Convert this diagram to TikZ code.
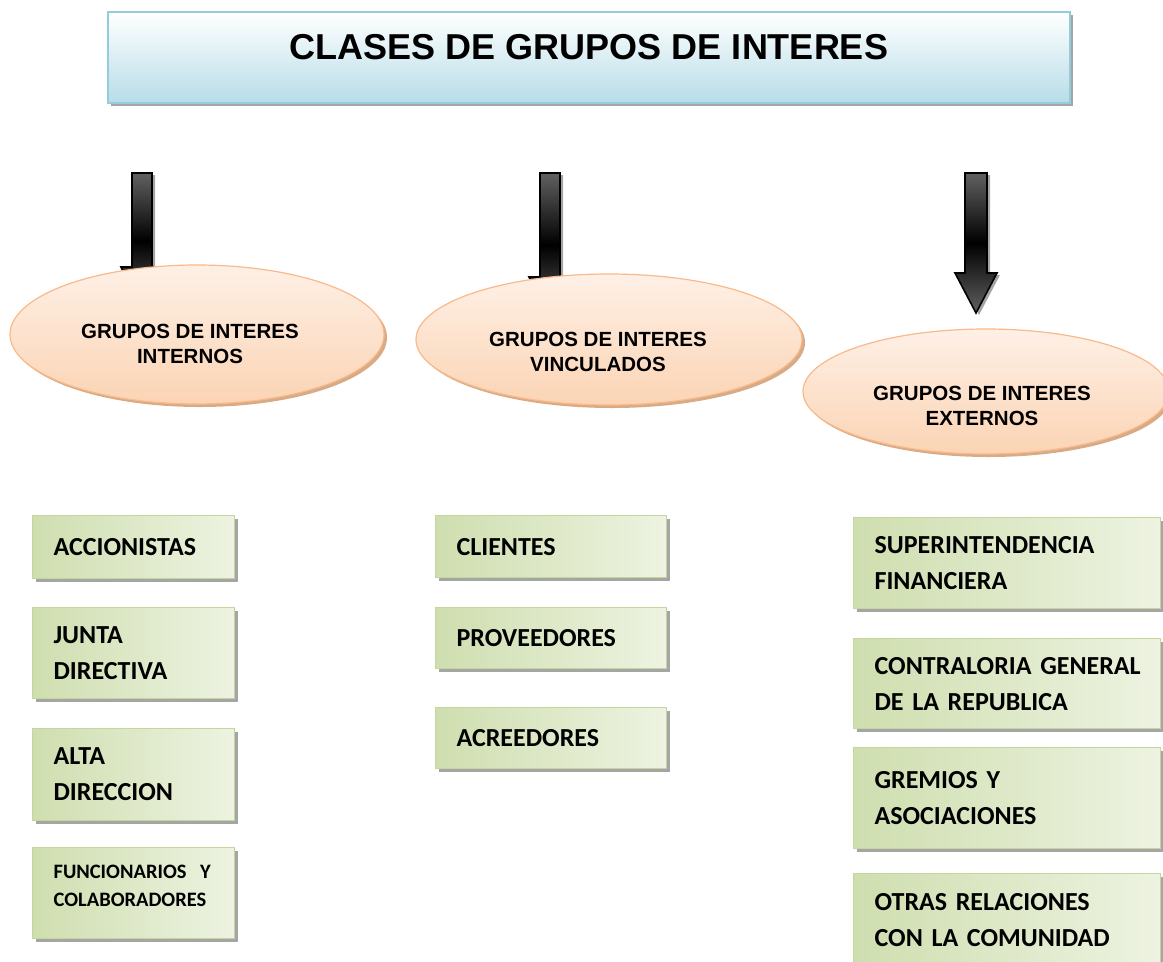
\documentclass[tikz,border=0pt]{standalone}
\usepackage{fontspec}
\usepackage{tikz}
\usetikzlibrary{shapes.geometric,shadows}
\newfontfamily\arialfont{Liberation Sans}
\newfontfamily\califont{Carlito}

\definecolor{azulclaro}{HTML}{B7DDE8}
\definecolor{azulborde}{HTML}{93CDDD}
\definecolor{durazno}{HTML}{FBD4B4}
\definecolor{duraznoclaro}{HTML}{FEF0E6}
\definecolor{duraznoborde}{HTML}{F9B98A}
\definecolor{duraznosombra}{HTML}{D6AB85}
\definecolor{verdeosc}{HTML}{CFDEAF}
\definecolor{verdeclaro}{HTML}{EDF3E1}
\definecolor{verdeborde}{HTML}{C3D69B}
\definecolor{sombra}{HTML}{A5A5A5}

\tikzset{
  titulobox/.style={draw=azulborde, line width=1.2pt, top color=white, bottom color=azulclaro,
    drop shadow={shadow xshift=3pt, shadow yshift=-3pt, fill=sombra, opacity=1},
    minimum width=962pt, minimum height=91pt, inner sep=0pt},
  grupo/.style={ellipse, draw=duraznoborde, line width=1.2pt, top color=duraznoclaro, bottom color=durazno,
    drop shadow={shadow xshift=3pt, shadow yshift=-3pt, fill=duraznosombra, opacity=1}, inner sep=0pt},
  grupotxt/.style={font=\arialfont\bfseries\fontsize{20.5}{24.5}\selectfont, align=center, inner sep=0pt},
  flecha/.style={draw=black, line width=1.6pt, line join=miter, top color=black!62, bottom color=black!62, middle color=black,
    drop shadow={shadow xshift=3pt, shadow yshift=-2pt, fill=sombra, opacity=1}},
  cajaverde/.style={draw=verdeborde, line width=1.2pt, left color=verdeosc, right color=verdeclaro,
    drop shadow={shadow xshift=3pt, shadow yshift=-3pt, fill=sombra, opacity=1},
    anchor=north west, align=left, inner xsep=21pt, inner ysep=0pt,
    font=\califont\bfseries\fontsize{26}{36}\selectfont},
}

\begin{document}
\begin{tikzpicture}[x=1pt,y=-1pt]
\useasboundingbox (0,0) rectangle (1163,962);

\node[titulobox] (titulo) at (589,57.5) {};
\node[font=\arialfont\bfseries\fontsize{36}{40}\selectfont, anchor=base, inner sep=0pt] (titulotxt) at (589,59) {CLASES DE GRUPOS DE INTERES};

\coordinate (flechaA) at (142,173);
\coordinate (flechaB) at (550,173);
\coordinate (flechaC) at (976,173);
\draw[flecha, shift={(flechaA)}] (-10,0) -- (10,0) -- (10,94) -- (21,94) -- (0,136) -- (-21,94) -- (-10,94) -- cycle;
\draw[flecha, shift={(flechaB)}] (-10,0) -- (10,0) -- (10,104) -- (21,104) -- (0,144) -- (-21,104) -- (-10,104) -- cycle;
\draw[flecha, shift={(flechaC)}] (-11,0) -- (11,0) -- (11,100) -- (21,100) -- (0,140) -- (-21,100) -- (-11,100) -- cycle;

\node[grupo, minimum width=374pt, minimum height=139pt] (internos) at (197,334.5) {};
\node[grupo, minimum width=386pt, minimum height=131pt] (vinculados) at (609,339.5) {};
\node[grupo, minimum width=366pt, minimum height=125pt] (externos) at (986,391.5) {};
\node[grupotxt] (internostxt) at (190,344) {GRUPOS DE INTERES\\INTERNOS};
\node[grupotxt] (vinculadostxt) at (598,352) {GRUPOS DE INTERES\\VINCULADOS};
\node[grupotxt] (externostxt) at (982,406) {GRUPOS DE INTERES\\EXTERNOS};

\node[cajaverde, text width=160pt, minimum height=63pt] (acc) at (32,515) {ACCIONISTAS};
\node[cajaverde, text width=160pt, minimum height=91pt] (junta) at (32,607) {JUNTA\\DIRECTIVA};
\node[cajaverde, text width=160pt, minimum height=92pt] (alta) at (32,728) {ALTA\\DIRECCION};
\node[cajaverde, text width=160pt, minimum height=91pt, text depth=42pt, font=\califont\bfseries\fontsize{20.5}{28}\selectfont] (func) at (32,847) {FUNCIONARIOS~ Y\\COLABORADORES};

\node[cajaverde, text width=189pt, minimum height=62pt] (cli) at (435,515) {CLIENTES};
\node[cajaverde, text width=189pt, minimum height=61pt] (prov) at (435,607) {PROVEEDORES};
\node[cajaverde, text width=189pt, minimum height=61pt] (acre) at (435,707) {ACREEDORES};

\node[cajaverde, text width=265pt, minimum height=91pt] (super) at (853,517) {SUPERINTENDENCIA\\FINANCIERA};
\node[cajaverde, text width=265pt, minimum height=90pt] (contra) at (853,638) {\mbox{CONTRALORIA GENERAL}\\DE LA REPUBLICA};
\node[cajaverde, text width=265pt, minimum height=101pt] (gremios) at (853,747) {GREMIOS Y\\ASOCIACIONES};
\node[cajaverde, text width=265pt, minimum height=92pt] (otras) at (853,873) {OTRAS RELACIONES\\CON LA COMUNIDAD};
\end{tikzpicture}
\end{document}
